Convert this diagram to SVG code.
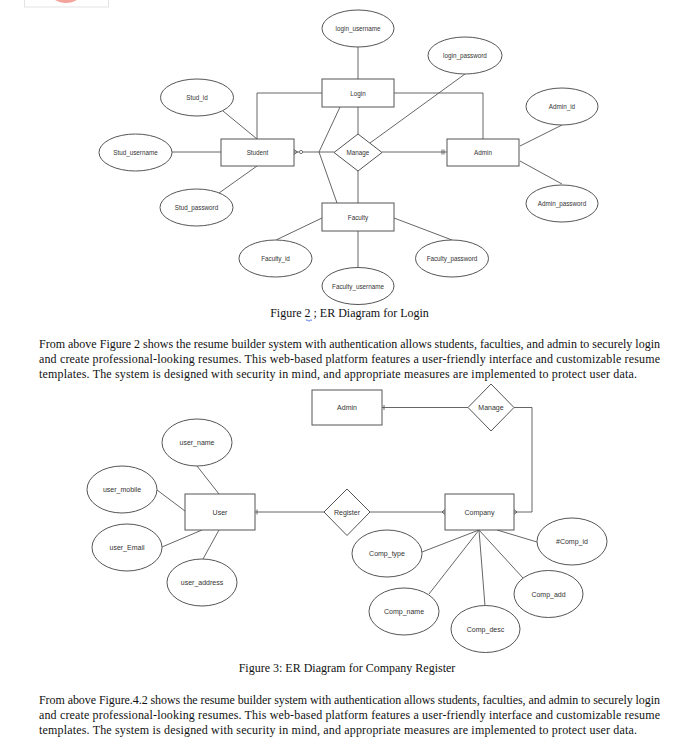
<svg xmlns="http://www.w3.org/2000/svg" width="689" height="747" viewBox="0 0 689 747">
<style>
.bg{fill:#fff}
.sh{fill:#fff;stroke:#555;stroke-width:1}
.ln{fill:none;stroke:#555;stroke-width:0.9}
.lb{font-family:"Liberation Sans",Arial,sans-serif;fill:#333;text-anchor:middle;dominant-baseline:central}
.s1{font-size:6.3px}
.s2{font-size:7px}
.cap{font-family:"Liberation Serif","Times New Roman",serif;font-size:12px;fill:#111}
.par{font-family:"Liberation Serif","Times New Roman",serif;font-size:12px;fill:#111}
</style>
<rect class="bg" x="0" y="0" width="689" height="747"/>
<g id="corner">
<rect x="24.5" y="-1" width="84" height="8" fill="#fff" stroke="#ddd" stroke-width="0.8"/>
<ellipse cx="66" cy="-10" rx="17" ry="13" fill="#f4a49c"/>
</g>

<!-- Figure 2 connectors -->
<g id="connectors1">
<line class="ln" x1="358" y1="47" x2="358" y2="79"/>
<line class="ln" x1="358" y1="107" x2="358" y2="134"/>
<line class="ln" x1="358" y1="171" x2="358" y2="203"/>
<line class="ln" x1="358" y1="231" x2="358" y2="268"/>
<polyline class="ln" points="322,93 257,93 257,139"/>
<polyline class="ln" points="394,93 483,93 483,139"/>
<line class="ln" x1="223" y1="111" x2="257" y2="139"/>
<line class="ln" x1="172" y1="152" x2="221" y2="152"/>
<line class="ln" x1="257" y1="166" x2="219" y2="193"/>
<line class="ln" x1="294" y1="152" x2="334" y2="152"/>
<line class="ln" x1="319" y1="152" x2="340" y2="107"/>
<line class="ln" x1="319" y1="152" x2="337" y2="203"/>
<line class="ln" x1="382" y1="152" x2="447" y2="152"/>
<line class="ln" x1="370" y1="143" x2="465" y2="74"/>
<line class="ln" x1="520" y1="146" x2="562" y2="125"/>
<line class="ln" x1="520" y1="161" x2="562" y2="184"/>
<line class="ln" x1="322" y1="218" x2="276" y2="240"/>
<line class="ln" x1="394" y1="218" x2="452" y2="240"/>
<!-- markers -->
<polyline class="ln" points="294,149.5 297.5,152 294,154.5"/>
<circle cx="301" cy="152" r="1.6" fill="#fff" stroke="#555" stroke-width="0.8"/>
<line class="ln" x1="442" y1="149.5" x2="442" y2="154.5"/>
<line class="ln" x1="444" y1="149.5" x2="444" y2="154.5"/>
</g>

<!-- Figure 2 nodes -->
<g id="login_username"><ellipse class="sh" cx="358" cy="28.5" rx="36" ry="18.5"/><text class="lb s1" x="358" y="28.5">login_username</text></g>
<g id="login_password"><ellipse class="sh" cx="465" cy="55.5" rx="37" ry="18.5"/><text class="lb s1" x="465" y="55.5">login_password</text></g>
<g id="login"><rect class="sh" x="322" y="79" width="72" height="28"/><text class="lb s1" x="358" y="93">Login</text></g>
<g id="stud_id"><ellipse class="sh" cx="197" cy="97.5" rx="36.5" ry="18.5"/><text class="lb s1" x="197" y="97.5">Stud_id</text></g>
<g id="admin_id"><ellipse class="sh" cx="562" cy="106.5" rx="36" ry="18.5"/><text class="lb s1" x="562" y="106.5">Admin_id</text></g>
<g id="stud_username"><ellipse class="sh" cx="135.5" cy="152.5" rx="36.5" ry="18.5"/><text class="lb s1" x="135.5" y="152.5">Stud_username</text></g>
<g id="student"><rect class="sh" x="221" y="139" width="73" height="27"/><text class="lb s1" x="257.5" y="152.5">Student</text></g>
<g id="manage1"><polygon class="sh" points="358,134 382,152.5 358,171 334,152.5"/><text class="lb s1" x="358" y="152.5">Manage</text></g>
<g id="admin1"><rect class="sh" x="447" y="139" width="72" height="27"/><text class="lb s1" x="483" y="152.5">Admin</text></g>
<g id="stud_password"><ellipse class="sh" cx="196.5" cy="207.5" rx="36.5" ry="18.5"/><text class="lb s1" x="196.5" y="207.5">Stud_password</text></g>
<g id="admin_password"><ellipse class="sh" cx="562" cy="203.5" rx="36" ry="18.5"/><text class="lb s1" x="562" y="203.5">Admin_password</text></g>
<g id="faculty"><rect class="sh" x="322" y="203" width="72" height="28"/><text class="lb s1" x="358" y="217">Faculty</text></g>
<g id="faculty_id"><ellipse class="sh" cx="275.5" cy="258.5" rx="36.5" ry="18.5"/><text class="lb s1" x="275.5" y="258.5">Faculty_id</text></g>
<g id="faculty_password"><ellipse class="sh" cx="452" cy="258.5" rx="36.5" ry="18.5"/><text class="lb s1" x="452" y="258.5">Faculty_password</text></g>
<g id="faculty_username"><ellipse class="sh" cx="358" cy="286" rx="36" ry="18.5"/><text class="lb s1" x="358" y="286">Faculty_username</text></g>

<text class="cap" x="349.5" y="317" text-anchor="middle">Figure 2 ; ER Diagram for Login</text>
<path d="M306,320.5 q1,-1.5 2,0 t2,0 t2,0" fill="none" stroke="#2b4fd8" stroke-width="0.8"/>

<text class="par" x="39" y="348" textLength="621" lengthAdjust="spacing">From above Figure 2 shows the resume builder system with authentication allows students, faculties, and admin to securely login</text>
<text class="par" x="39" y="363" textLength="621" lengthAdjust="spacing">and create professional-looking resumes. This web-based platform features a user-friendly interface and customizable resume</text>
<text class="par" x="39" y="378" textLength="598" lengthAdjust="spacing">templates. The system is designed with security in mind, and appropriate measures are implemented to protect user data.</text>

<!-- Figure 3 connectors -->
<g id="connectors2">
<line class="ln" x1="382" y1="407.5" x2="468" y2="407.5"/>
<polyline class="ln" points="514,407.5 532,407.5 532,512 514,512"/>
<line class="ln" x1="370" y1="512" x2="445" y2="512"/>
<line class="ln" x1="255" y1="512" x2="324" y2="512"/>
<line class="ln" x1="197" y1="466" x2="219" y2="494"/>
<line class="ln" x1="157" y1="490" x2="185" y2="511"/>
<line class="ln" x1="162" y1="547" x2="202" y2="530"/>
<line class="ln" x1="203" y1="559" x2="219" y2="530"/>
<line class="ln" x1="479" y1="530" x2="422" y2="552"/>
<line class="ln" x1="479" y1="530" x2="429" y2="594"/>
<line class="ln" x1="479" y1="530" x2="485" y2="606"/>
<line class="ln" x1="479" y1="530" x2="523" y2="578"/>
<line class="ln" x1="497" y1="530" x2="537" y2="542"/>
<!-- markers -->
<line class="ln" x1="384" y1="405" x2="384" y2="410"/>
<line class="ln" x1="257" y1="509.5" x2="257" y2="514.5"/>
<polyline class="ln" points="445,509.5 442,512 445,514.5"/>
<polyline class="ln" points="514,509.5 517,512 514,514.5"/>
</g>

<!-- Figure 3 nodes -->
<g id="admin2"><rect class="sh" x="312" y="390" width="70" height="35"/><text class="lb s2" x="347" y="407.5">Admin</text></g>
<g id="manage2"><polygon class="sh" points="491,384 514,407.5 491,431 468,407.5"/><text class="lb s2" x="491" y="407.5">Manage</text></g>
<g id="user_name"><ellipse class="sh" cx="197" cy="442.5" rx="35" ry="23.5"/><text class="lb s2" x="197" y="442.5">user_name</text></g>
<g id="user_mobile"><ellipse class="sh" cx="122" cy="489.5" rx="35" ry="23.5"/><text class="lb s2" x="122" y="489.5">user_mobile</text></g>
<g id="user"><rect class="sh" x="185" y="494" width="70" height="36"/><text class="lb s2" x="220" y="512">User</text></g>
<g id="register"><polygon class="sh" points="347,489 370,512 347,535.5 324,512"/><text class="lb s2" x="347" y="512">Register</text></g>
<g id="company"><rect class="sh" x="445" y="494" width="69" height="36"/><text class="lb s2" x="479.5" y="512">Company</text></g>
<g id="user_email"><ellipse class="sh" cx="127" cy="547.5" rx="35" ry="23.5"/><text class="lb s2" x="127" y="547.5">user_Email</text></g>
<g id="user_address"><ellipse class="sh" cx="202" cy="582.5" rx="35" ry="23.5"/><text class="lb s2" x="202" y="582.5">user_address</text></g>
<g id="comp_type"><ellipse class="sh" cx="387" cy="553.5" rx="35" ry="23.5"/><text class="lb s2" x="387" y="553.5">Comp_type</text></g>
<g id="comp_id"><ellipse class="sh" cx="572" cy="541.5" rx="35" ry="23.5"/><text class="lb s2" x="572" y="541.5">#Comp_id</text></g>
<g id="comp_add"><ellipse class="sh" cx="548.5" cy="594" rx="34.5" ry="23.5"/><text class="lb s2" x="548.5" y="594">Comp_add</text></g>
<g id="comp_name"><ellipse class="sh" cx="404" cy="611.5" rx="35" ry="23.5"/><text class="lb s2" x="404" y="611.5">Comp_name</text></g>
<g id="comp_desc"><ellipse class="sh" cx="485.5" cy="629" rx="34.5" ry="23.5"/><text class="lb s2" x="485.5" y="629">Comp_desc</text></g>

<text class="cap" x="347" y="672" text-anchor="middle">Figure 3: ER Diagram for Company Register</text>

<text class="par" x="39" y="704" textLength="621" lengthAdjust="spacing">From above Figure.4.2 shows the resume builder system with authentication allows students, faculties, and admin to securely login</text>
<text class="par" x="39" y="719" textLength="621" lengthAdjust="spacing">and create professional-looking resumes. This web-based platform features a user-friendly interface and customizable resume</text>
<text class="par" x="39" y="734" textLength="598" lengthAdjust="spacing">templates. The system is designed with security in mind, and appropriate measures are implemented to protect user data.</text>
</svg>
